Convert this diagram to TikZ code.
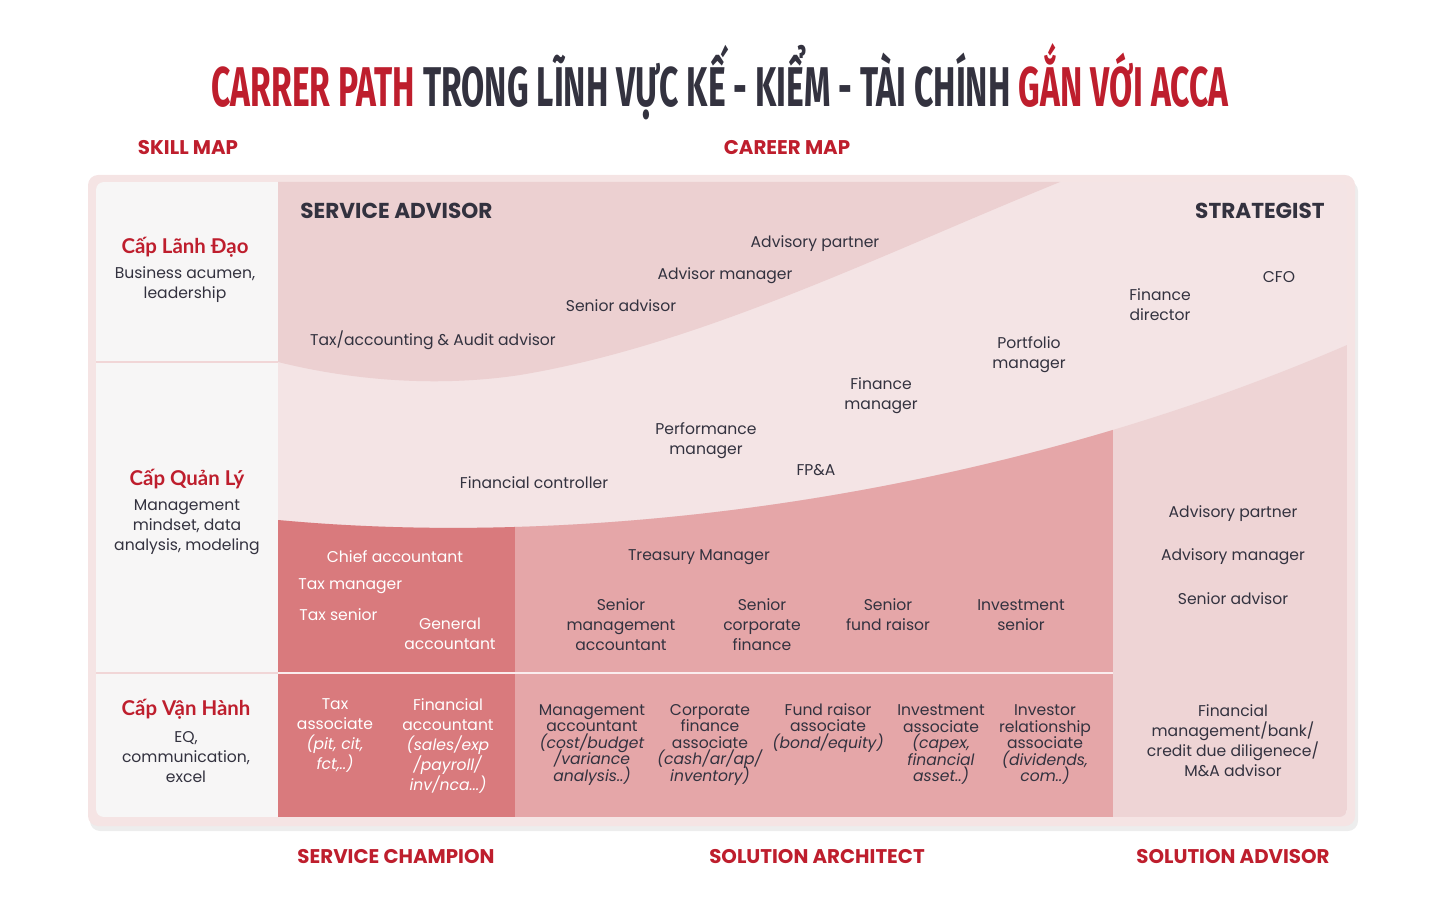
\documentclass[tikz,border=0pt]{standalone}
\usepackage{fontspec}
\setmainfont{Poppins}
\newfontfamily\vnfont{Lato}
\newfontfamily\titlefont[FakeStretch=0.6]{Fira Sans}
\usepackage{xcolor}
\definecolor{accaRed}{HTML}{BE1E2D}
\definecolor{accaInk}{HTML}{33323F}
\definecolor{frameRim}{HTML}{F5E4E4}
\definecolor{skillBg}{HTML}{F7F6F6}
\definecolor{bandLight}{HTML}{F4E4E5}
\definecolor{advisorPink}{HTML}{ECD0D1}
\definecolor{solAdvPink}{HTML}{EED4D5}
\definecolor{architectPink}{HTML}{E5A6A8}
\definecolor{championRed}{HTML}{D97A7D}
\definecolor{rowLine}{HTML}{F1D6D7}
\usetikzlibrary{calc}
\newcommand\tightlines{\setlength{\lineskiplimit}{-5pt}}

\tikzset{
  job/.style={align=center, text=accaInk, inner sep=0pt, font=\fontsize{7.8}{10}\selectfont},
  jobw/.style={job, text=white},
  ops/.style={job, font=\fontsize{7.8}{8.25}\selectfont\tightlines},
  opsw/.style={ops, text=white, font=\fontsize{7.8}{10}\selectfont},
  mapHead/.style={inner sep=0pt, text=accaRed, font=\fontsize{9.9}{11}\selectfont\bfseries},
  zoneHead/.style={inner sep=0pt, text=accaInk, font=\fontsize{10.8}{12}\selectfont\bfseries},
  level/.style={inner sep=0pt, text=accaRed, font=\vnfont\fontsize{10.2}{12}\selectfont\bfseries},
}

\begin{document}
\begin{tikzpicture}[x=0.5pt, y=-0.5pt]
  \useasboundingbox (0,0) rectangle (1440,914);
  % ---- title ----
  \node[inner sep=0pt, text=accaInk, font=\titlefont\fontsize{28}{30}\selectfont\bfseries] (title) at (720,82)
    {\textcolor{accaRed}{CARRER PATH} TRONG LĨNH VỰC KẾ - KIỂM - TÀI CHÍNH \textcolor{accaRed}{GẮN VỚI ACCA}};
  \node[mapHead] (skillmap) at (188,148) {SKILL MAP};
  \node[mapHead] (careermap) at (787,148) {CAREER MAP};

  % ---- frame ----
  \fill[black!7, rounded corners=5pt] (90,181) rectangle (1358,831);
  \fill[frameRim, rounded corners=5pt] (88,175) rectangle (1355,826);
  \begin{scope}
    \clip[rounded corners=4pt] (96,182) rectangle (1347,817);
    \fill[skillBg] (96,182) rectangle (278,817);
    \fill[bandLight] (278,182) rectangle (1347,817);
    % service advisor zone
    \fill[advisorPink] (278,182) -- (1060,182)
      .. controls (880,255) and (700,345) .. (520,375)
      .. controls (420,390) and (330,375) .. (278,362) -- cycle;
    % zones under the lower curve
    \begin{scope}
      \clip (278,520) .. controls (600,550) and (1000,495) .. (1347,345) -- (1347,817) -- (278,817) -- cycle;
      \fill[solAdvPink] (278,300) rectangle (1347,817);
      \fill[architectPink] (515,300) rectangle (1113,817);
      \fill[championRed] (278,300) rectangle (515,817);
    \end{scope}
    \draw[white!80!architectPink, line width=1.2pt] (278,673) -- (1113,673);
    \draw[rowLine, line width=1.2pt] (96,362) -- (278,362);
    \draw[rowLine, line width=1.2pt] (96,673) -- (278,673);
  \end{scope}

  % ---- skill map ----
  \node[level] (lvlLead) at (185,247) {Cấp Lãnh Đạo};
  \node[job] (lvlLeadDesc) at (185,285) {Business acumen,\\leadership};
  \node[level] (lvlMan) at (187,479) {Cấp Quản Lý};
  \node[job] (lvlManDesc) at (187,527) {Management\\mindset, data\\analysis, modeling};
  \node[level] (lvlOps) at (186,709) {Cấp Vận Hành};
  \node[job] (lvlOpsDesc) at (186,757) {EQ,\\communication,\\excel};

  % ---- service advisor / strategist ----
  \node[zoneHead, anchor=west] (svcAdvisor) at (300,211) {SERVICE ADVISOR};
  \node[zoneHead, anchor=east] (strategist) at (1325,211) {STRATEGIST};
  \node[job] (advPartner) at (815,244) {Advisory partner};
  \node[job] (advManager) at (725,276) {Advisor manager};
  \node[job] (senAdvisor) at (621,306) {Senior advisor};
  \node[job] (taxAdvisor) at (433,340) {Tax/accounting \& Audit advisor};
  \node[job] (finDirector) at (1160,305) {Finance\\director};
  \node[job] (cfo) at (1279,277) {CFO};
  \node[job] (portfolio) at (1029,355) {Portfolio\\manager};
  \node[job] (finManager) at (881,396) {Finance\\manager};
  \node[job] (perfManager) at (706,441) {Performance\\manager};
  \node[job] (fpa) at (816,470) {FP\&A};
  \node[job] (finController) at (534,483) {Financial controller};

  % ---- service champion ----
  \node[jobw] (chiefAcc) at (395,557) {Chief accountant};
  \node[jobw, anchor=west] (taxManager) at (298,586) {Tax manager};
  \node[jobw, anchor=west] (taxSenior) at (299,615) {Tax senior};
  \node[jobw] (genAcc) at (450,634) {General\\accountant};
  \node[opsw] (taxAssoc) at (335,736) {Tax\\associate\\\textit{(pit, cit,}\\\textit{fct,..)}};
  \node[opsw] (finAcc) at (448,746) {Financial\\accountant\\\textit{(sales/exp}\\\textit{/payroll/}\\\textit{inv/nca...)}};

  % ---- solution architect ----
  \node[job] (treasury) at (699,557) {Treasury Manager};
  \node[job] (senMgmtAcc) at (621,625) {Senior\\management\\accountant};
  \node[job] (senCorpFin) at (762,625) {Senior\\corporate\\finance};
  \node[job] (senFund) at (888,615) {Senior\\fund raisor};
  \node[job] (invSenior) at (1021,615) {Investment\\senior};
  \node[ops] (mgmtAcc) at (592,745) {Management\\accountant\\\textit{(cost/budget}\\\textit{/variance}\\\textit{analysis..)}};
  \node[ops] (corpFin) at (710,745) {Corporate\\finance\\associate\\\textit{(cash/ar/ap/}\\\textit{inventory)}};
  \node[ops] (fundAssoc) at (828,728) {Fund raisor\\associate\\\textit{(bond/equity)}};
  \node[ops] (invAssoc) at (941,745) {Investment\\associate\\\textit{(capex,}\\\textit{financial}\\\textit{asset..)}};
  \node[ops] (irAssoc) at (1045,745) {Investor\\relationship\\associate\\\textit{(dividends,}\\\textit{com..)}};

  % ---- solution advisor ----
  \node[job] (saPartner) at (1233,514) {Advisory partner};
  \node[job] (saManager) at (1233,557) {Advisory manager};
  \node[job] (saSenior) at (1233,599) {Senior advisor};
  \node[job] (saFinMgmt) at (1233,741) {Financial\\management/bank/\\credit due diligenece/\\M\&A advisor};

  % ---- bottom labels ----
  \node[mapHead] (champion) at (396,857) {SERVICE CHAMPION};
  \node[mapHead] (architect) at (817,857) {SOLUTION ARCHITECT};
  \node[mapHead] (solAdvisor) at (1233,857) {SOLUTION ADVISOR};
\end{tikzpicture}
\end{document}
